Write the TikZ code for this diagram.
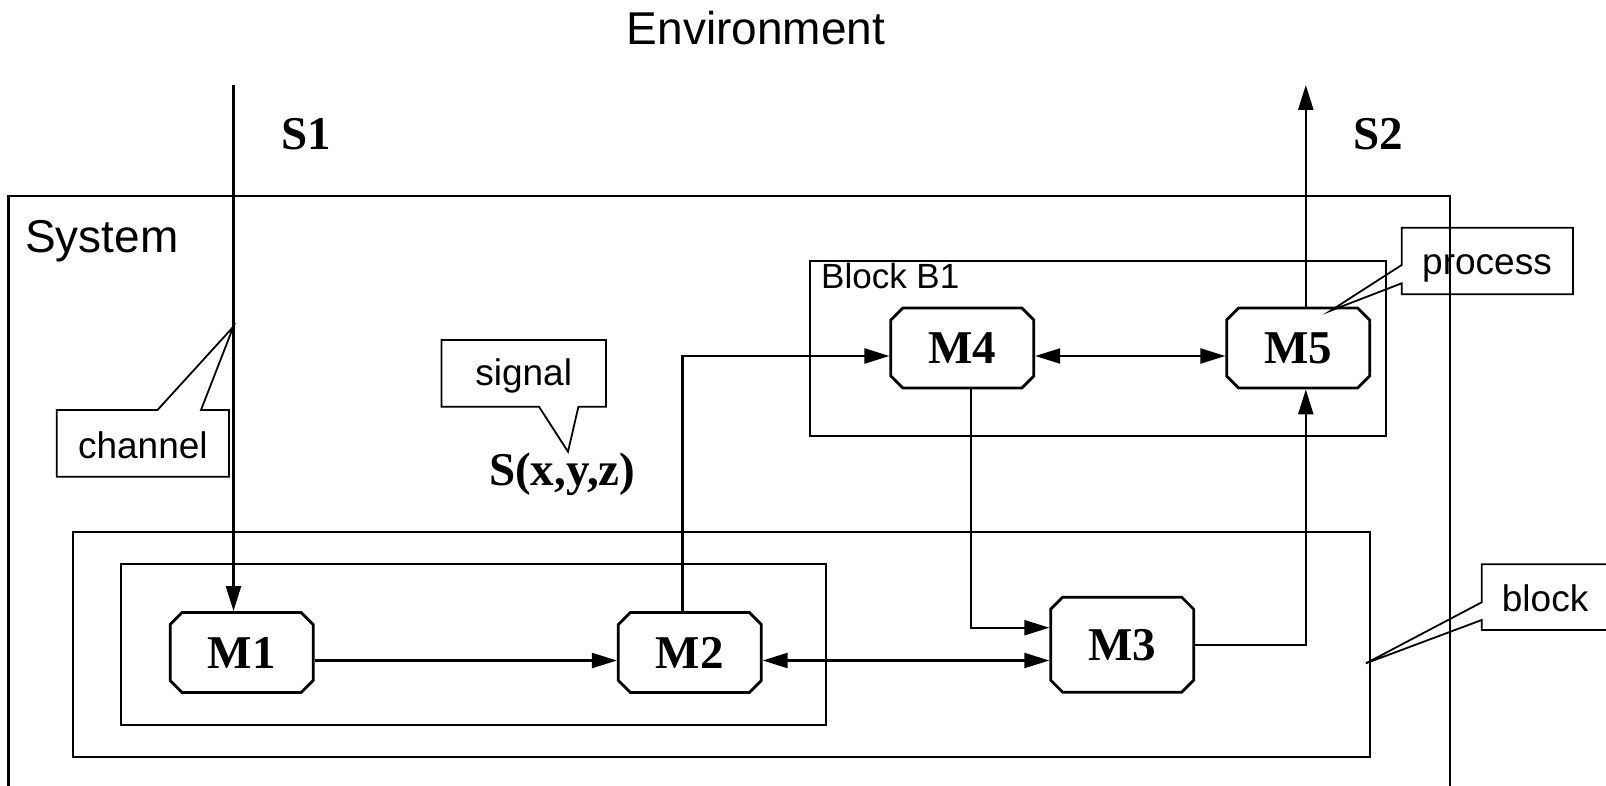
\documentclass[tikz,border=0pt]{standalone}
\usepackage{fontspec}
\newfontfamily\hv{Liberation Sans}
\newfontfamily\tm{Liberation Serif}
\usetikzlibrary{arrows.meta,shapes.misc}

\begin{document}
\begin{tikzpicture}[x=1pt,y=-1pt,
  sys/.style={draw,line width=2.8pt},
  blk/.style={draw,line width=2.1pt},
  module/.style={chamfered rectangle,chamfered rectangle xsep=6pt,
    chamfered rectangle ysep=6pt,draw,line width=2.8pt,
    minimum width=143pt,minimum height=80pt,inner sep=0pt,
    font=\tm\bfseries\fontsize{47}{50}\selectfont},
  tip/.tip={Triangle[length=25pt,width=15pt]},
  flow/.style={line width=2.3pt,-tip},
  flow2/.style={line width=2.3pt,tip-tip},
  callout/.style={draw,line width=1.8pt,line join=miter},
  note/.style={font=\hv\fontsize{37}{40}\selectfont,inner sep=0pt},
  heading/.style={font=\hv\fontsize{46}{50}\selectfont,inner sep=0pt},
  sig/.style={font=\tm\bfseries\fontsize{47}{50}\selectfont,inner sep=0pt},
]
\clip (0,0) rectangle (1606,786);
\fill[white] (0,0) rectangle (1606,786);

% frames: system, blocks
\draw[sys] (8.5,196) rectangle (1450,820);
\draw[blk] (73.2,532.3) rectangle (1370,756.7);
\draw[blk] (121.3,564.3) rectangle (825.8,725);
\draw[blk] (810,260.7) rectangle (1385.9,436);

% headings and signal names
\node[heading,anchor=base] (env) at (756,45) {Environment};
\node[heading,anchor=base west] (systxt) at (25,253) {System};
\node[note,font=\hv\fontsize{35}{38}\selectfont,anchor=base west] (b1lbl) at (821,289) {Block B1};
\node[sig,anchor=base west] (s1lbl) at (281.6,149.3) {S1};
\node[sig,anchor=base west] (s2lbl) at (1353,150) {S2};
\node[sig,anchor=base west] (sxyz) at (489,485) {S(x,y,z)};

% processes
\node[module] (M1) at (241.7,652.5) {M1};
\node[module] (M2) at (689.8,652.5) {M2};
\node[module,minimum height=95pt] (M3) at (1122.2,644.7) {M3};
\node[module] (M4) at (962.3,348) {M4};
\node[module] (M5) at (1298.2,348) {M5};

% channel ends in the environment
\coordinate (s1top) at (233.5,85);
\coordinate (s2top) at (1305.8,85);

% channels
\draw[flow] (s1top) -- (s1top |- M1.north);
\draw[flow] ([yshift=-8pt]M1.east) -- ([yshift=-8pt]M2.west);
\coordinate (m2r) at ([yshift=-8pt]M2.east);
\draw[flow2] (m2r) -- (m2r -| M3.west);
\coordinate (m2t) at ([xshift=-7.3pt]M2.north);
\draw[flow] (m2t) |- ([yshift=-8pt]M4.west);
\draw[flow2] ([yshift=-8pt]M4.east) -- ([yshift=-8pt]M5.west);
\coordinate (m4b) at ([xshift=8.4pt]M4.south);
\draw[flow] (m4b) |- ([yshift=17pt]M3.west);
\coordinate (m5b) at ([xshift=7.6pt]M5.south);
\draw[flow] (M3.east) -| (m5b);
\coordinate (m5t) at ([xshift=7.6pt]M5.north);
\draw[flow] (m5t) -- (s2top);

% callouts
\coordinate (chtip) at (233.4,326.7);
\draw[callout] (56.8,410) -- (157.5,410) -- (chtip) -- (201,410) -- (228.9,410)
  -- (228.9,476.7) -- (56.8,476.7) -- cycle;
\node[note,anchor=base] (chanlbl) at (142.9,458) {channel};

\coordinate (sgtip) at (568,451.7);
\draw[callout] (441.5,340) -- (606,340) -- (606,406.7) -- (578.4,406.7) -- (sgtip)
  -- (539,406.7) -- (441.5,406.7) -- cycle;
\node[note,anchor=base] (siglbl) at (523.7,385) {signal};

\coordinate (prtip) at (1330.6,310.7);
\draw[callout] (1401.7,227.7) -- (1573,227.7) -- (1573,294.3) -- (1401.7,294.3)
  -- (1401.7,283.3) -- (prtip) -- (1401.7,265) -- cycle;
\node[note,anchor=base] (proclbl) at (1487,275) {process};

\coordinate (bktip) at (1365.9,663.3);
\draw[callout] (1481.7,564.3) -- (1615,564.3) -- (1615,630) -- (1481.7,630)
  -- (1481.7,620) -- (bktip) -- (1481.7,602.3) -- cycle;
\node[note,anchor=base west] (blklbl) at (1501.7,611) {block};
\end{tikzpicture}
\end{document}
